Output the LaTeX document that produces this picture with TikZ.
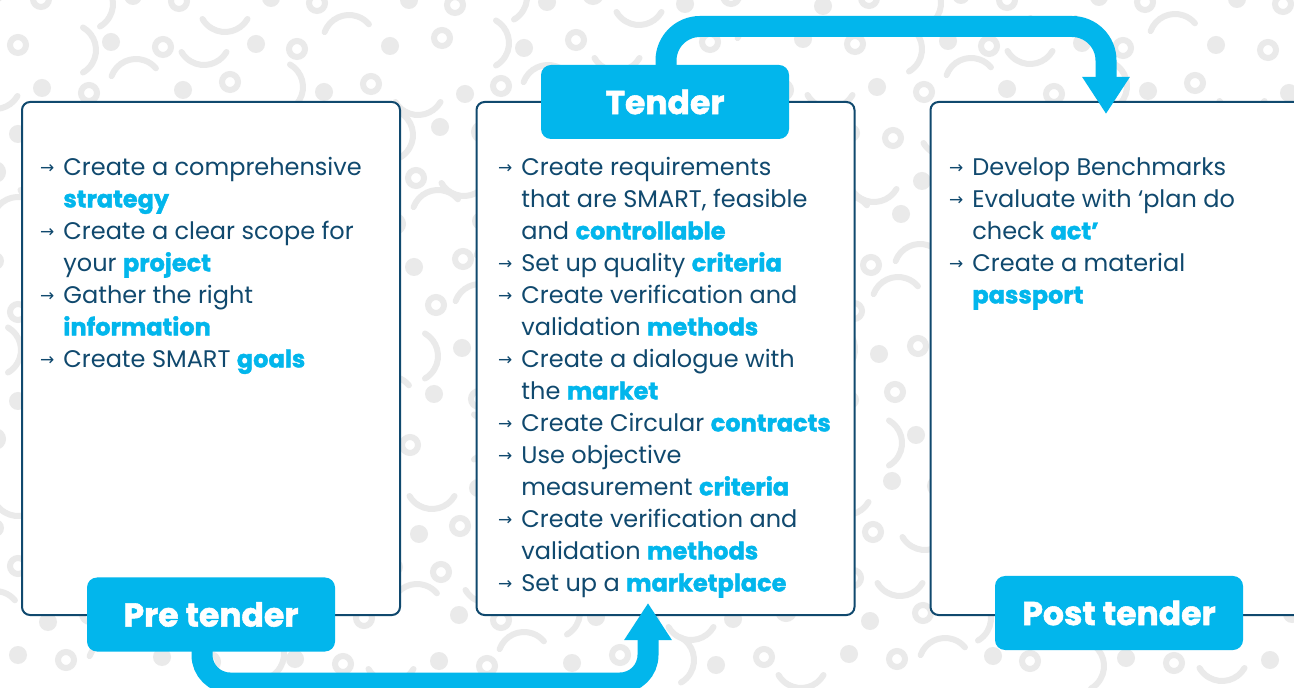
\documentclass[tikz,border=0pt]{standalone}
\usepackage{fontspec}
\setmainfont{Poppins}[BoldFeatures={FakeBold=1.6}]
\newfontfamily\dejavu{DejaVu Sans}
\usetikzlibrary{arrows.meta,calc}
\definecolor{cyanC}{RGB}{2,182,236}
\definecolor{navy}{RGB}{16,73,110}
\definecolor{patt}{RGB}{234,234,234}
\newcommand{\barr}{\llap{{\dejavu\fontsize{8.5}{8.5}\selectfont\raisebox{0.25ex}{→}}\hspace{4.5pt}}}
\newcommand{\hl}[1]{\textcolor{cyanC}{\textbf{#1}}}
\tikzset{
  card/.style={draw=navy, line width=1pt, fill=white, rounded corners=4pt,
    minimum width=189pt, minimum height=256.5pt, inner sep=0pt},
  lbl/.style={fill=cyanC, rounded corners=5pt, minimum width=124pt, minimum height=37pt,
    text=white, font=\fontsize{16.5}{16.5}\selectfont\bfseries, inner sep=0pt},
  txt/.style={text=navy, align=left, anchor=north west, inner sep=0pt,
    font=\fontsize{12}{16}\selectfont},
  bigarrow/.style={draw=cyanC, line width=10.5pt,
    -{Triangle[width=22.5pt,length=18.5pt]}},
  pdot/.style={fill=patt},
  pring/.style={draw=patt, line width=3pt},
  parc/.style={draw=patt, line width=3pt, line cap=round}
}
\begin{document}
\begin{tikzpicture}[x=0.5pt,y=-0.5pt]
\useasboundingbox (0,0) rectangle (1294,688);
\clip (0,0) rectangle (1294,688);
\fill[white] (0,0) rectangle (1294,688);
% background pattern
\foreach \i in {0,...,28}{
  \foreach \j in {0,...,15}{
    \pgfmathtruncatemacro{\k}{mod(\i*7+\j*13+\i*\j*3,9)}
    \pgfmathsetmacro{\px}{\i*46+mod(\j,2)*23+mod(\i*\j*17,11)-5}
    \pgfmathsetmacro{\py}{\j*44+mod(\i*31+\j*7,13)-6}
    \ifcase\k
      \fill[pdot] (\px,\py) circle[radius=9];
    \or
      \draw[pring] (\px,\py) circle[radius=8];
    \or
      \draw[parc] (\px,\py) ++(200:26) arc[start angle=200, end angle=320, radius=26];
    \or
      \fill[pdot] (\px,\py) circle[radius=9];
    \or
      \draw[pring] (\px,\py) circle[radius=8];
    \or
      \draw[parc] (\px,\py) ++(-60:26) arc[start angle=-60, end angle=60, radius=26];
    \or
      \fill[pdot] (\px,\py) circle[radius=9];
    \or
      \draw[pring] (\px,\py) circle[radius=8];
    \or
      \draw[parc] (\px,\py) ++(30:26) arc[start angle=30, end angle=150, radius=26];
    \fi
  }
}
% cards
\node[card] (b1) at (211,358.5) {};
\node[card] (b2) at (665.5,358.5) {};
\node[card] (b3) at (1119.5,358.5) {};
% arrow end points
\coordinate (tipB) at ($(b2.south)+(-17.5,-13)$);
\coordinate (tipT) at ($(b3.north)+(-13.5,13)$);
% label positions
\path (211,614.5) coordinate (preC) (665,102) coordinate (tenC) (1119,613) coordinate (postC);
% big arrows
\draw[bigarrow, rounded corners=14pt] ($(preC)+(-9,0)$) |- ($(tipB)+(0,80)$) -- (tipB);
\draw[bigarrow, rounded corners=17pt] ($(tenC)+(1,0)$) |- ($(tipT)+(0,-87.5)$) -- (tipT);
% labels
\node[lbl] (pre) at (preC) {Pre tender};
\node[lbl] (ten) at (tenC) {Tender};
\node[lbl] (post) at (postC) {Post tender};
% texts
\node[txt] (t1) at (63,152.6) {\strut\barr Create a comprehensive\\
\hl{strategy}\\
\barr Create a clear scope for\\
your \hl{project}\\
\barr Gather the right\\
\hl{information}\\
\barr Create SMART \hl{goals}};
\node[txt] (t2) at (521,152.6) {\strut\barr Create requirements\\
that are SMART, feasible\\
and \hl{controllable}\\
\barr Set up quality \hl{criteria}\\
\barr Create verification and\\
validation \hl{methods}\\
\barr Create a dialogue with\\
the \hl{market}\\
\barr Create Circular \hl{contracts}\\
\barr Use objective\\
measurement \hl{criteria}\\
\barr Create verification and\\
validation \hl{methods}\\
\barr Set up a \hl{marketplace}};
\node[txt] (t3) at (972,152.6) {\strut\barr Develop Benchmarks\\
\barr Evaluate with ‘plan do\\
check \hl{act’}\\
\barr Create a material\\
\hl{passport}};
\end{tikzpicture}
\end{document}
